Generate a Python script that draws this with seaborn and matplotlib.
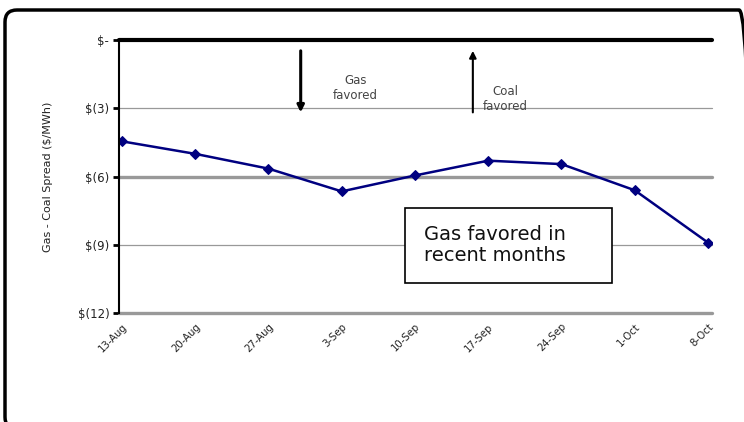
import matplotlib
matplotlib.use("Agg")
import matplotlib.pyplot as plt
import seaborn as sns
import pandas as pd
from matplotlib.patches import FancyBboxPatch, Rectangle

# values ($/MWh, gas minus coal)
weeks = ['13-Aug', '20-Aug', '27-Aug', '3-Sep', '10-Sep', '17-Sep', '24-Sep', '1-Oct', '8-Oct']
spread = [-4.45, -5.0, -5.65, -6.65, -5.95, -5.3, -5.45, -6.6, -8.9]
ytick_vals = [0, -3, -6, -9, -12]
ytick_labels = ['$-', '$(3)', '$(6)', '$(9)', '$(12)']

df = pd.DataFrame({'pos': range(len(weeks)), 'spread': spread})

sns.set_style('white')
plt.rcParams['font.family'] = ['DejaVu Sans']

fig = plt.figure(figsize=(7.44, 4.22), dpi=100)

# background axes in pixel units, for the rounded outer frame (cut off right and bottom)
bg = fig.add_axes([0, 0, 1, 1], zorder=-1)
bg.axis('off')
bg.add_patch(FancyBboxPatch((5, -7), 746, 419, boxstyle='round,pad=0,rounding_size=12',
                            facecolor='none', edgecolor='black', lw=2.5))
bg.set_xlim(0, 744)
bg.set_ylim(0, 422)

ax = fig.add_axes([0.16, 0.258, 0.797, 0.647])
ax.patch.set_alpha(0)

# gridlines with the uneven weights of the original
grid_style = {0: ('black', 3.0), -3: ('#999999', 0.9), -6: ('#999999', 2.4),
              -9: ('#999999', 0.9), -12: ('#999999', 2.4)}
for v, (c, lw) in grid_style.items():
    ax.axhline(v, color=c, lw=lw, zorder=1, clip_on=False)

sns.lineplot(data=df, x='pos', y='spread', ax=ax, color='#000080', lw=1.8,
             marker='D', markersize=5, markeredgecolor='#000080', zorder=3)

ax.set_xlim(-0.04, 8.055)
ax.set_ylim(-12, 0)
ax.set_xticks(range(len(weeks)))
ax.set_xticklabels(weeks, rotation=45, ha='right', rotation_mode='anchor', fontsize=7.3,
                   color='#222222')
ax.set_yticks(ytick_vals)
ax.set_yticklabels(ytick_labels, fontsize=8.5, color='#222222')
ax.tick_params(axis='y', length=4, width=2, color='black', pad=3, left=True, direction='out')
ax.tick_params(axis='x', length=0, pad=6)
ax.set_xlabel('')
ax.set_ylabel('Gas - Coal Spread ($/MWh)', fontsize=8, labelpad=18, color='#222222')

for s in ['top', 'right', 'bottom']:
    ax.spines[s].set_visible(False)
ax.spines['left'].set_color('black')
ax.spines['left'].set_linewidth(1.5)
ax.spines['left'].set_zorder(4)

# direction arrows
ax.annotate('', xy=(2.44, -3.3), xytext=(2.44, -0.35),
            arrowprops=dict(arrowstyle='-|>', color='black', lw=2.2, mutation_scale=10))
ax.annotate('', xy=(4.79, -0.35), xytext=(4.79, -3.3),
            arrowprops=dict(arrowstyle='-|>', color='black', lw=1.5, mutation_scale=10))
ax.text(3.19, -2.1, 'Gas\nfavored', ha='center', va='center', fontsize=8.5, color='#444444',
        linespacing=1.2)
ax.text(5.23, -2.6, 'Coal\nfavored', ha='center', va='center', fontsize=8.5, color='#444444',
        linespacing=1.2)

# callout box
ax.add_patch(Rectangle((3.86, -10.68), 2.83, 3.31, facecolor='white', edgecolor='black',
                       lw=1.2, zorder=5))
ax.text(4.13, -9.0, 'Gas favored in\nrecent months', ha='left', va='center', fontsize=14,
        color='#111111', zorder=6, linespacing=1.15)

fig.savefig('out.png', dpi=100)
